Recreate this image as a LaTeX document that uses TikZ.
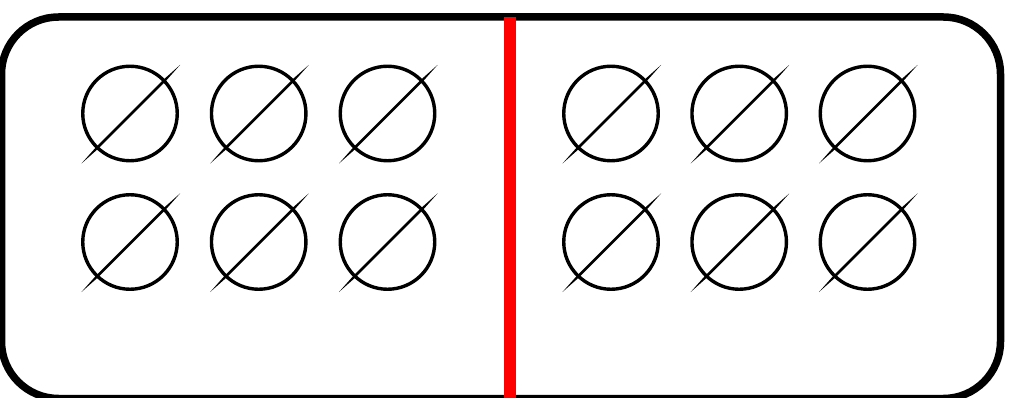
\documentclass[tikz,border=0pt]{standalone}
\usetikzlibrary{calc}
\begin{document}
\begin{tikzpicture}[x=1pt,y=-1pt,
  frame/.style={draw=black,line width=7.5pt,rounded corners=57pt},
  divider/.style={draw=red,line width=12pt},
  ring/.style={circle,draw=black,line width=3.4pt,inner sep=0pt,minimum size=94.5pt},
]
\useasboundingbox (0,0) rectangle (1009,398);
\draw[frame] (1.5,17) rectangle (1000.5,398.5);
\coordinate (dtop) at (510,17);
\coordinate (dbot) at (510,400);
\draw[divider] (dtop) -- (dbot);
\foreach \n/\x/\y in {a/130/113.5, b/258.7/113.5, c/387.5/113.5,
                      d/130/242, e/258.7/242, f/387.5/242,
                      g/611/113.5, h/739.2/113.5, i/867.5/113.5,
                      j/611/242, k/739.2/242, l/867.5/242}{
  \node[ring] (\n) at (\x,\y) {};
  \fill[black] ($(\n.center)+(-48.5,50)$)
     -- ($(\n.center)+(-33.5,35)+(-0.9,-0.9)$)
     -- ($(\n.center)+(35,-33.5)+(-0.9,-0.9)$)
     -- ($(\n.center)+(50,-48.5)$)
     -- ($(\n.center)+(35,-33.5)+(0.9,0.9)$)
     -- ($(\n.center)+(-33.5,35)+(0.9,0.9)$)
     -- cycle;
}
\end{tikzpicture}
\end{document}
